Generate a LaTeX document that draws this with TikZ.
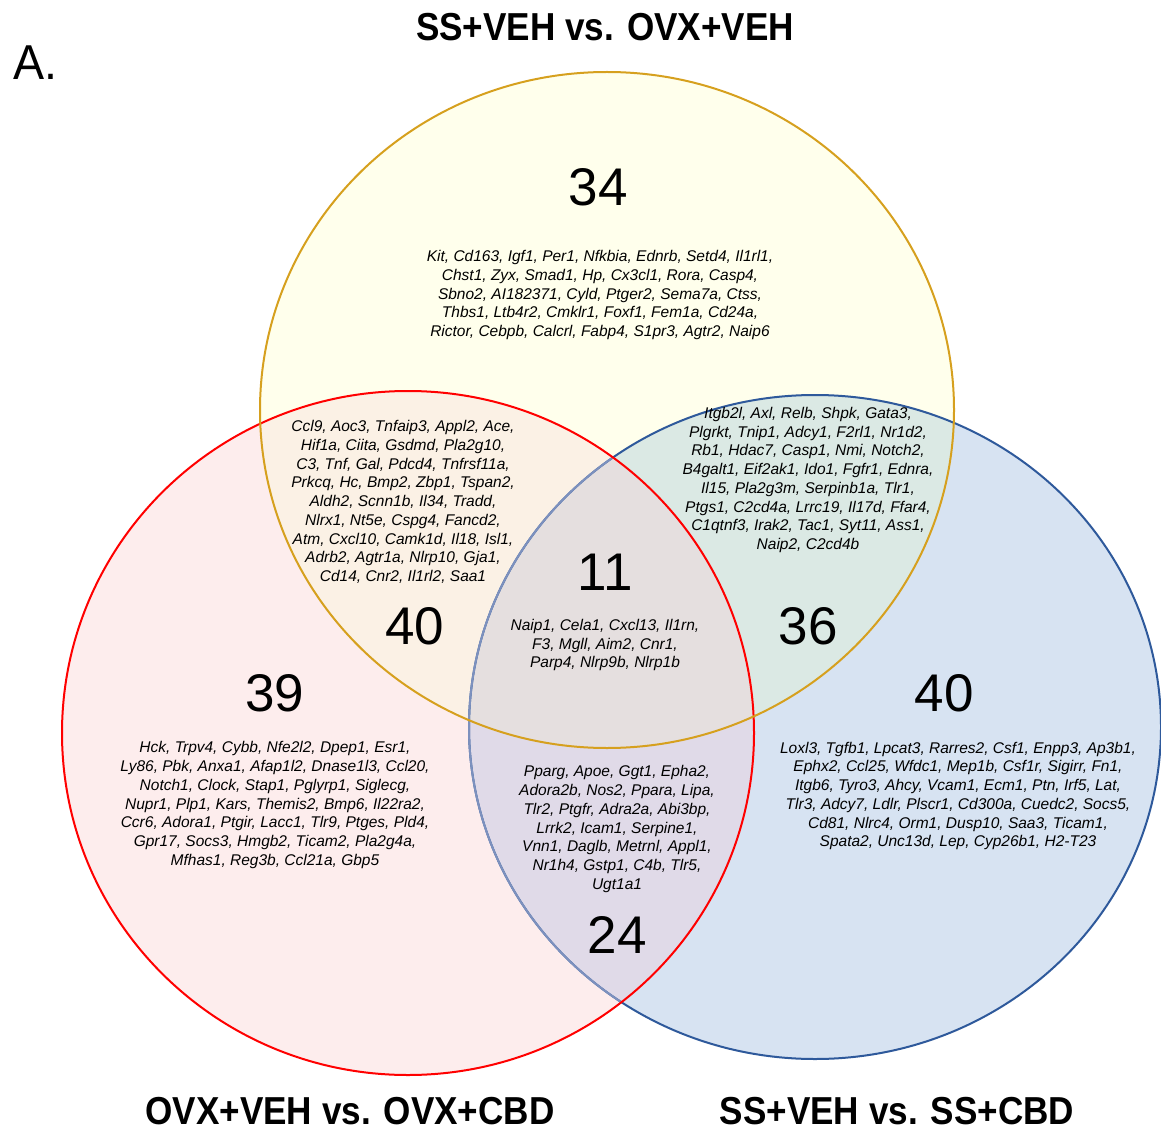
\documentclass[tikz,border=0pt]{standalone}
\usepackage{fontspec}
\setmainfont{Liberation Sans}
\usepackage{tikz}

\definecolor{topline}{RGB}{214,160,30}
\definecolor{leftline}{RGB}{255,0,0}
\definecolor{rightline}{RGB}{46,89,155}
\definecolor{rightfaded}{RGB}{125,145,190}
\definecolor{topfill}{RGB}{255,255,236}
\definecolor{leftfill}{RGB}{253,237,237}
\definecolor{rightfill}{RGB}{215,227,242}
\definecolor{tlfill}{RGB}{251,241,229}
\definecolor{trfill}{RGB}{219,233,228}
\definecolor{lrfill}{RGB}{224,218,232}
\definecolor{midfill}{RGB}{229,223,223}

\def\topset{(607,410) ellipse [x radius=347, y radius=338]}
\def\leftset{(408,733) ellipse [x radius=346, y radius=342]}
\def\rightset{(815,727) ellipse [x radius=346, y radius=332]}

\begin{document}
\begin{tikzpicture}[x=1pt,y=-1pt,
    genes/.style={align=center,inner sep=0pt,font=\fontsize{15.5}{18.7}\selectfont\itshape},
    count/.style={inner sep=0pt,font=\fontsize{53}{60}\selectfont},
    heading/.style={inner sep=0pt,xscale=0.9,font=\fontsize{39}{44}\selectfont\bfseries},
    edge/.style={line width=2pt},
]
\useasboundingbox (0,0) rectangle (1161,1131);

% region fills
\fill[topfill] \topset;
\fill[leftfill] \leftset;
\fill[rightfill] \rightset;
\begin{scope}
    \clip \topset;
    \fill[tlfill] \leftset;
    \fill[trfill] \rightset;
\end{scope}
\begin{scope}
    \clip \leftset;
    \fill[lrfill] \rightset;
\end{scope}
\begin{scope}
    \clip \topset;
    \clip \leftset;
    \fill[midfill] \rightset;
\end{scope}

% outlines (blue one shows faded under the red set)
\draw[edge,rightline] \rightset;
\begin{scope}
    \clip \leftset;
    \draw[edge,rightfaded] \rightset;
\end{scope}
\draw[edge,leftline] \leftset;
\draw[edge,topline] \topset;

% headings
\node[inner sep=0pt,xscale=0.95,font=\fontsize{49}{54}\selectfont] (panel) at (35,63) {A.};
\node[heading] (titletop) at (605,27) {SS+VEH vs. OVX+VEH};
\node[heading] (titleleft) at (350,1111) {OVX+VEH vs. OVX+CBD};
\node[heading] (titleright) at (897,1111) {SS+VEH vs. SS+CBD};

% counts
\node[count] (ntop) at (598,187) {34};
\node[count] (ntl) at (415,626) {40};
\node[count] (ntr) at (808,626) {36};
\node[count] (nmid) at (605,572) {11};
\node[count] (nleft) at (275,693) {39};
\node[count] (nright) at (944,693) {40};
\node[count] (nlr) at (617,935) {24};

% gene lists
\node[genes] (gtop) at (600,295) {Kit, Cd163, Igf1, Per1, Nfkbia, Ednrb, Setd4, Il1rl1,\\
    Chst1, Zyx, Smad1, Hp, Cx3cl1, Rora, Casp4,\\
    Sbno2, AI182371, Cyld, Ptger2, Sema7a, Ctss,\\
    Thbs1, Ltb4r2, Cmklr1, Foxf1, Fem1a, Cd24a,\\
    Rictor, Cebpb, Calcrl, Fabp4, S1pr3, Agtr2, Naip6};
\node[genes] (gtl) at (403,502) {Ccl9, Aoc3, Tnfaip3, Appl2, Ace,\\
    Hif1a, Ciita, Gsdmd, Pla2g10,\\
    C3, Tnf, Gal, Pdcd4, Tnfrsf11a,\\
    Prkcq, Hc, Bmp2, Zbp1, Tspan2,\\
    Aldh2, Scnn1b, Il34, Tradd,\\
    Nlrx1, Nt5e, Cspg4, Fancd2,\\
    Atm, Cxcl10, Camk1d, Il18, Isl1,\\
    Adrb2, Agtr1a, Nlrp10, Gja1,\\
    Cd14, Cnr2, Il1rl2, Saa1};
\node[genes] (gtr) at (808,480) {Itgb2l, Axl, Relb, Shpk, Gata3,\\
    Plgrkt, Tnip1, Adcy1, F2rl1, Nr1d2,\\
    Rb1, Hdac7, Casp1, Nmi, Notch2,\\
    B4galt1, Eif2ak1, Ido1, Fgfr1, Ednra,\\
    Il15, Pla2g3m, Serpinb1a, Tlr1,\\
    Ptgs1, C2cd4a, Lrrc19, Il17d, Ffar4,\\
    C1qtnf3, Irak2, Tac1, Syt11, Ass1,\\
    Naip2, C2cd4b};
\node[genes] (gmid) at (605,645) {Naip1, Cela1, Cxcl13, Il1rn,\\
    F3, Mgll, Aim2, Cnr1,\\
    Parp4, Nlrp9b, Nlrp1b};
\node[genes] (gleft) at (275,805) {Hck, Trpv4, Cybb, Nfe2l2, Dpep1, Esr1,\\
    Ly86, Pbk, Anxa1, Afap1l2, Dnase1l3, Ccl20,\\
    Notch1, Clock, Stap1, Pglyrp1, Siglecg,\\
    Nupr1, Plp1, Kars, Themis2, Bmp6, Il22ra2,\\
    Ccr6, Adora1, Ptgir, Lacc1, Tlr9, Ptges, Pld4,\\
    Gpr17, Socs3, Hmgb2, Ticam2, Pla2g4a,\\
    Mfhas1, Reg3b, Ccl21a, Gbp5};
\node[genes] (glr) at (617,829) {Pparg, Apoe, Ggt1, Epha2,\\
    Adora2b, Nos2, Ppara, Lipa,\\
    Tlr2, Ptgfr, Adra2a, Abi3bp,\\
    Lrrk2, Icam1, Serpine1,\\
    Vnn1, Daglb, Metrnl, Appl1,\\
    Nr1h4, Gstp1, C4b, Tlr5,\\
    Ugt1a1};
\node[genes] (gright) at (958,796) {Loxl3, Tgfb1, Lpcat3, Rarres2, Csf1, Enpp3, Ap3b1,\\
    Ephx2, Ccl25, Wfdc1, Mep1b, Csf1r, Sigirr, Fn1,\\
    Itgb6, Tyro3, Ahcy, Vcam1, Ecm1, Ptn, Irf5, Lat,\\
    Tlr3, Adcy7, Ldlr, Plscr1, Cd300a, Cuedc2, Socs5,\\
    Cd81, Nlrc4, Orm1, Dusp10, Saa3, Ticam1,\\
    Spata2, Unc13d, Lep, Cyp26b1, H2-T23};
\end{tikzpicture}
\end{document}
